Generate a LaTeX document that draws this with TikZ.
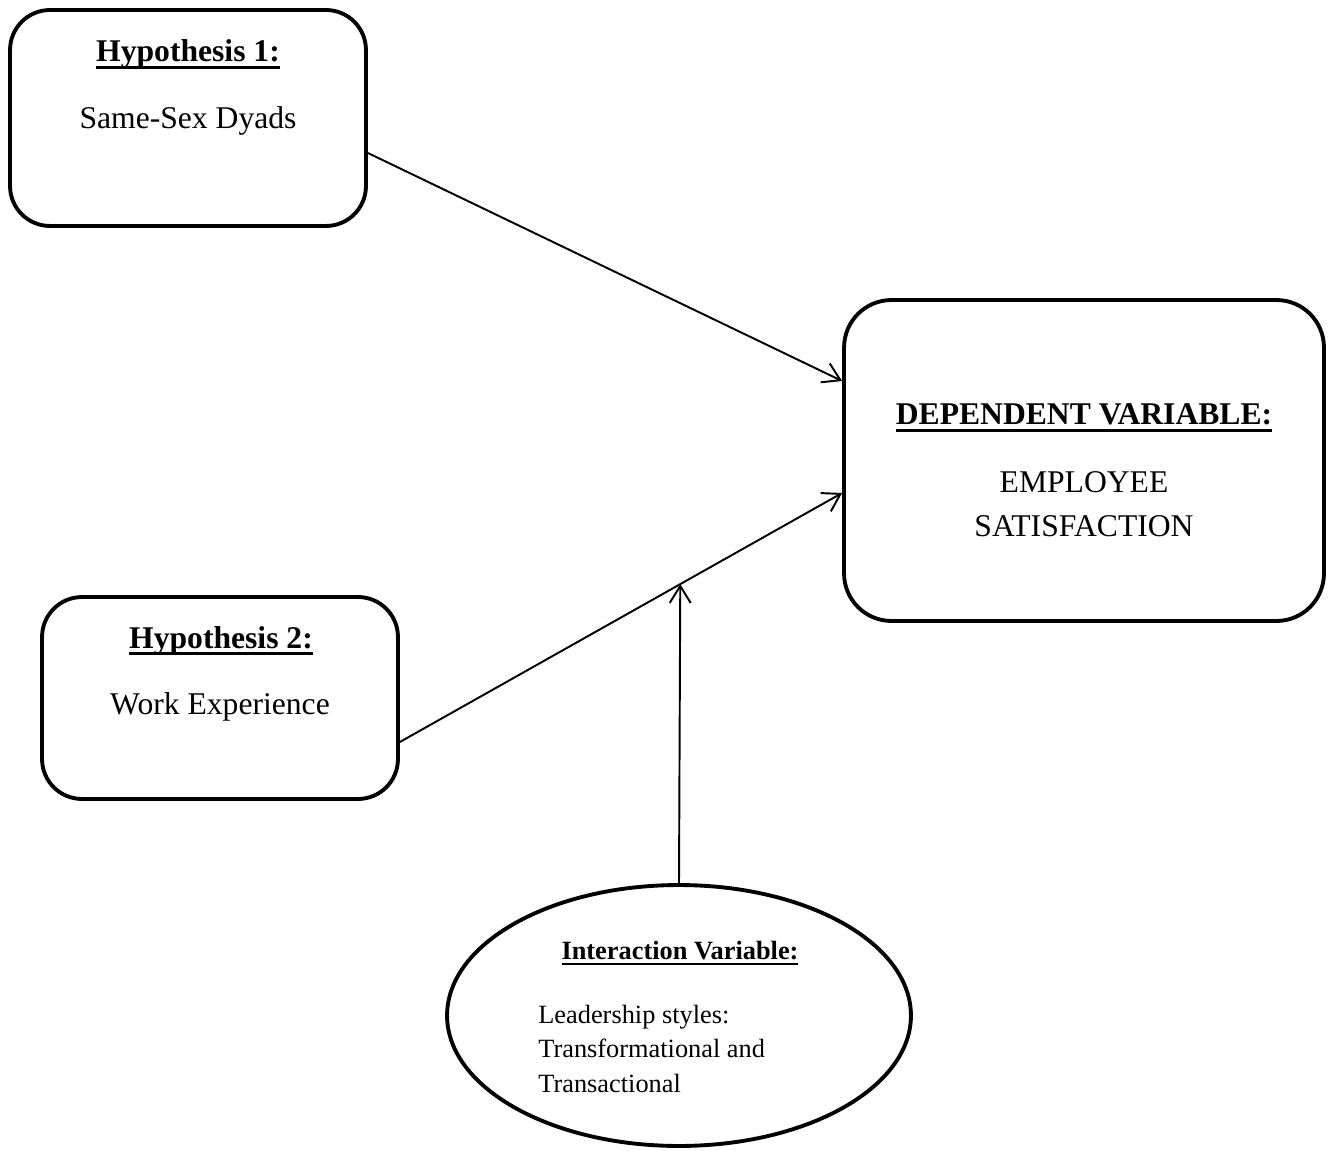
\documentclass[tikz,border=0pt]{standalone}
\usepackage{fontspec}
\setmainfont{Liberation Serif}
\usetikzlibrary{shapes.geometric,arrows.meta,positioning}

% bold text with a heavy underline through the descenders
\newsavebox{\ulbox}
\newcommand{\ulbf}[1]{\sbox{\ulbox}{\bfseries #1}\rlap{\rule[-0.23em]{\wd\ulbox}{0.095em}}\usebox{\ulbox}}

\begin{document}
\begin{tikzpicture}[
    x=0.02cm, y=-0.02cm,
    hbox/.style={rectangle, draw, line width=2.2pt, rounded corners=0.8cm, inner sep=0pt, minimum width=7.12cm},
    dvbox/.style={rectangle, draw, line width=2.2pt, rounded corners=0.95cm, inner sep=0pt, minimum width=9.6cm, minimum height=6.42cm},
    oval/.style={ellipse, draw, line width=2.2pt, inner sep=0pt, minimum width=9.28cm, minimum height=5.22cm},
    big/.style={font=\fontsize{18}{24.5}\selectfont, inner sep=0pt, anchor=base, align=center},
    small/.style={font=\fontsize{15}{19.6}\selectfont, inner sep=0pt, anchor=base},
    arrow/.style={-{Straight Barb[length=3.4mm, width=4.2mm]}, line width=1.1pt}
]
\useasboundingbox (0,0) rectangle (1334,1151);

% Hypotheses
\node[hbox, minimum height=4.32cm] (hypo1) at (188,118) {};
\node[big] (hypo1-title) at (188,62) {\ulbf{Hypothesis 1:}};
\node[big] (hypo1-text) at (188,129) {Same-Sex Dyads};

\node[hbox, minimum height=4.04cm] (hypo2) at (220,698) {};
\node[big] (hypo2-title) at (221,648) {\ulbf{Hypothesis 2:}};
\node[big] (hypo2-text) at (220,714) {Work Experience};

% Dependent variable (multi-line nodes sit on their last baseline)
\node[dvbox] (dv) at (1084,460.5) {};
\node[big] (dv-title) at (1084,425) {\ulbf{DEPENDENT VARIABLE:}};
\node[big] (dv-text) at (1084,536) {EMPLOYEE\\SATISFACTION};

% Interaction variable
\node[oval] (inter) at (679,1015.5) {};
\node[small] (inter-title) at (680,959) {\ulbf{Interaction Variable:}};
\node[small, anchor=base west, align=left] (inter-text) at (538,1092) {Leadership styles:\\Transformational and\\Transactional};

% Arrows
\draw[arrow] ([yshift=-0.7cm]hypo1.east) -- ([yshift=1.59cm]dv.west);
\draw[arrow] ([yshift=-0.88cm]hypo2.east) -- coordinate[pos=0.634] (meet) ([yshift=-0.65cm]dv.west);
\draw[arrow] (inter.north) -- (meet);

\end{tikzpicture}
\end{document}
